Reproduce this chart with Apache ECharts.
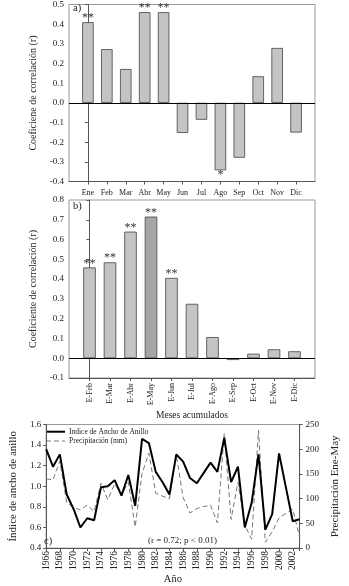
<!DOCTYPE html>
<html>
<head>
<meta charset="utf-8">
<script src="https://cdn.jsdelivr.net/npm/echarts@6/dist/echarts.min.js"></script>
<style>
html,body{margin:0;padding:0;background:#fff;}
#chart{width:349px;height:586px;}
</style>
</head>
<body>
<div id="chart"></div>
<script>
// ---- data ----
const monthCats = ['Ene','Feb','Mar','Abr','May','Jun','Jul','Ago','Sep','Oct','Nov','Dic'];
const monthR = [0.41, 0.273, 0.172, 0.461, 0.461, -0.153, -0.086, -0.343, -0.279, 0.135, 0.279, -0.151];
const monthSig = ['**','','','**','**','','','*','','','',''];

const cumCats = ['E-Feb','E-Mar','E-Abr','E-May','E-Jun','E-Jul','E-Ago','E-Sep','E-Oct','E-Nov','E-Dic'];
const cumR = [0.459, 0.485, 0.64, 0.716, 0.406, 0.275, 0.107, -0.009, 0.023, 0.045, 0.035];
const cumSig = ['**','**','**','**','**','','','','','',''];

const years = [1966,1967,1968,1969,1970,1971,1972,1973,1974,1975,1976,1977,1978,1979,1980,1981,1982,1983,1984,1985,1986,1987,1988,1989,1990,1991,1992,1993,1994,1995,1996,1997,1998,1999,2000,2001,2002,2003];
const ringIndex = [1.36,1.19,1.31,0.92,0.78,0.60,0.69,0.67,0.99,1.00,1.06,0.91,1.11,0.81,1.46,1.42,1.14,1.04,0.92,1.31,1.24,1.08,1.03,1.13,1.23,1.14,1.47,1.04,1.19,0.60,0.84,1.31,0.58,0.73,1.32,0.99,0.66,0.68];
const precip = [140,138,176,92,83,77,87,74,131,98,130,108,133,43,151,192,111,105,100,189,102,71,80,84,87,51,232,58,133,46,18,238,12,33,61,70,79,22];
const seriesNames = ['Indice de Ancho de Anillo', 'Precipitación (mm)'];

// ---- style ----
const FONT = "'Liberation Serif','Times New Roman',serif";
const TXT = '#222';
const AXC = '#555';
const highlightCum = 3; // E-May drawn darker

const chart = echarts.init(document.getElementById('chart'), null, {renderer:'canvas'});

function barXAxis(grid, cats, max, rotate, fontSize, margin, extra) {
  const idx = cats.map((_, i) => i);
  return Object.assign({
    type: 'value', gridIndex: grid, min: -1, max: max, interval: 1,
    axisLine: {show: true, onZero: false, lineStyle: {color: AXC, width: 1}},
    axisTick: {show: true, length: 3, customValues: idx, lineStyle: {color: AXC}},
    splitLine: {show: false},
    axisLabel: {
      customValues: idx, rotate: rotate, margin: margin,
      fontFamily: FONT, fontSize: fontSize, color: TXT,
      formatter: v => (Number.isInteger(v) && cats[v] !== undefined) ? cats[v] : ''
    }
  }, extra || {});
}

function rYAxis(grid, min, max, name) {
  return {
    type: 'value', gridIndex: grid, min: min, max: max, interval: 0.1,
    axisLine: {show: true, lineStyle: {color: AXC}},
    axisTick: {show: true, length: 3, lineStyle: {color: AXC}},
    splitLine: {show: false},
    axisLabel: {fontFamily: FONT, fontSize: 9, color: TXT, margin: 5,
      formatter: v => (Math.abs(v) < 1e-9 ? 0 : v).toFixed(1)},
    name: name, nameLocation: 'middle', nameGap: 24,
    nameTextStyle: {fontFamily: FONT, fontSize: 10, color: TXT}
  };
}

function barSeries(xi, vals, sig, colorFn, barWidth) {
  return {
    type: 'bar', xAxisIndex: xi, yAxisIndex: xi, barWidth: barWidth,
    data: vals.map((v, i) => ({
      value: [i, v],
      itemStyle: {color: colorFn(i)},
      label: {position: v < 0 ? 'bottom' : 'top', distance: v < 0 ? -1 : -2}
    })),
    itemStyle: {borderColor: '#444', borderWidth: 0.8},
    label: {show: true, fontFamily: FONT, fontSize: 12, color: '#333',
      formatter: p => sig[p.dataIndex]},
    markLine: {
      silent: true, symbol: 'none', animation: false,
      label: {show: false},
      lineStyle: {color: '#000', width: 1, type: 'solid'},
      data: [{yAxis: 0}]
    },
    animation: false
  };
}

const option = {
  backgroundColor: '#fff',
  animation: false,
  textStyle: {fontFamily: FONT},
  grid: [
    {left: 69, top: 3.5, width: 246, height: 178, show: true, borderColor: '#999', borderWidth: 1, backgroundColor: 'transparent'},
    {left: 69, top: 200, width: 246, height: 178, show: true, borderColor: '#999', borderWidth: 1, backgroundColor: 'transparent'},
    {left: 33.5, top: 424.5, width: 282.5, height: 126, show: true, borderColor: '#999', borderWidth: 1, backgroundColor: 'transparent'}
  ],
  xAxis: [
    barXAxis(0, monthCats, 12, 0, 8, 7),
    barXAxis(1, cumCats, 11, 90, 8, 5, {
      name: 'Meses acumulados', nameLocation: 'middle', nameGap: 32.5,
      nameTextStyle: {fontFamily: FONT, fontSize: 9.5, color: TXT}
    }),
    {
      type: 'value', gridIndex: 2, min: 1966, max: 2003, interval: 2,
      axisLine: {show: true, onZero: false, lineStyle: {color: AXC}},
      axisTick: {show: true, length: 3, lineStyle: {color: AXC}},
      splitLine: {show: false},
      axisLabel: {rotate: 90, margin: 3, fontFamily: FONT, fontSize: 9.5, color: TXT,
        formatter: v => ((v - 1966) % 2 === 0 && v <= 2002) ? String(v) : ''},
      name: 'Año', nameLocation: 'middle', nameGap: 25.5,
      nameTextStyle: {fontFamily: FONT, fontSize: 10.5, color: TXT}
    }
  ],
  yAxis: [
    rYAxis(0, -0.4, 0.5, 'Coeficiene de correlación (r)'),
    rYAxis(1, -0.1, 0.8, 'Coeficiente de correlación (r)'),
    {
      type: 'value', gridIndex: 2, min: 0.4, max: 1.6, interval: 0.2,
      axisLine: {show: true, lineStyle: {color: AXC}},
      axisTick: {show: true, length: 3, lineStyle: {color: AXC}},
      splitLine: {show: false},
      axisLabel: {fontFamily: FONT, fontSize: 9, color: TXT, margin: 5, formatter: v => v.toFixed(1)},
      name: 'Índice de ancho de anillo', nameLocation: 'middle', nameGap: 21,
      nameTextStyle: {fontFamily: FONT, fontSize: 11, color: TXT}
    },
    {
      type: 'value', gridIndex: 2, position: 'right', min: 0, max: 250, interval: 50,
      axisLine: {show: true, lineStyle: {color: AXC}},
      axisTick: {show: true, length: 3, lineStyle: {color: AXC}},
      splitLine: {show: false},
      axisLabel: {fontFamily: FONT, fontSize: 9, color: TXT, margin: 6},
      name: 'Precipitación Ene-May', nameLocation: 'middle', nameGap: 21.5, nameRotate: 90,
      nameTextStyle: {fontFamily: FONT, fontSize: 11, color: TXT}
    }
  ],
  series: [
    barSeries(0, monthR, monthSig, () => '#c4c4c4', 11.5),
    barSeries(1, cumR, cumSig, i => i === highlightCum ? '#a6a6a6' : '#c4c4c4', 12.5),
    {
      name: seriesNames[1], type: 'line', xAxisIndex: 2, yAxisIndex: 3,
      data: years.map((y, i) => [y, precip[i]]),
      symbol: 'none', showSymbol: false,
      lineStyle: {color: '#777', width: 1, type: [5, 3]},
      itemStyle: {color: '#777'}, z: 2
    },
    {
      name: seriesNames[0], type: 'line', xAxisIndex: 2, yAxisIndex: 2,
      data: years.map((y, i) => [y, ringIndex[i]]),
      symbol: 'none', showSymbol: false,
      lineStyle: {color: '#000', width: 2},
      itemStyle: {color: '#000'}, z: 3
    }
  ],
  graphic: [
    {type: 'text', left: 73, top: 3, style: {text: 'a)', font: "10.5px 'Liberation Serif',serif", fill: TXT}},
    {type: 'text', left: 73, top: 201, style: {text: 'b)', font: "10.5px 'Liberation Serif',serif", fill: TXT}},
    {type: 'text', left: 44, top: 536, style: {text: 'c)', font: "10.5px 'Liberation Serif',serif", fill: TXT}},
    {type: 'text', left: 148, top: 536.5, style: {text: '(r = 0.72; p < 0.01)', font: "9px 'Liberation Serif',serif", fill: TXT}},
    // legend
    {type: 'line', shape: {x1: 46, y1: 431.7, x2: 65, y2: 431.7}, style: {stroke: '#000', lineWidth: 2}},
    {type: 'line', shape: {x1: 46, y1: 441, x2: 65, y2: 441}, style: {stroke: '#777', lineWidth: 1, lineDash: [5, 3]}},
    {type: 'text', x: 69, y: 431.7, style: {text: seriesNames[0], font: "7.5px 'Liberation Serif',serif", fill: TXT, verticalAlign: 'middle'}},
    {type: 'text', x: 69, y: 441, style: {text: seriesNames[1], font: "7.5px 'Liberation Serif',serif", fill: TXT, verticalAlign: 'middle'}}
  ]
};
chart.setOption(option);
</script>
</body>
</html>
